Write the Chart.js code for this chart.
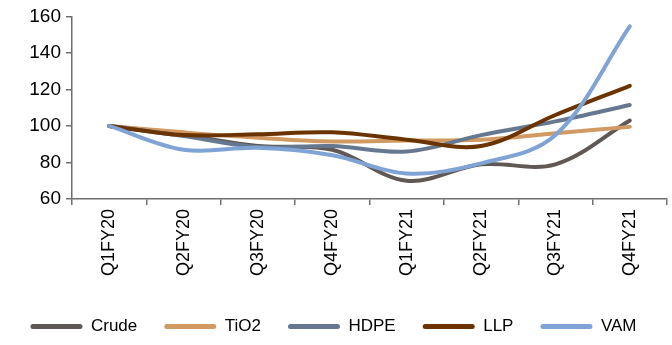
<!DOCTYPE html>
<html>
<head>
<meta charset="utf-8">
<script src="https://cdn.jsdelivr.net/npm/chart.js@4/dist/chart.umd.min.js"></script>
<style>
  html, body { margin: 0; padding: 0; background: #ffffff; }
  #wrap { width: 672px; height: 345px; position: relative; }
</style>
</head>
<body>
<div id="wrap"><canvas id="chart" width="672" height="345"></canvas></div>
<script>
// Quarterly price index (Q1FY20 = 100)
const quarters = ['Q1FY20', 'Q2FY20', 'Q3FY20', 'Q4FY20', 'Q1FY21', 'Q2FY21', 'Q3FY21', 'Q4FY21'];
const crude = [100, 95, 89, 87, 70, 79, 79, 103];
const tio2  = [100, 96.5, 93.5, 91.5, 92, 92.5, 96, 99.5];
const hdpe  = [100, 94.5, 88.5, 89, 86, 95, 102.5, 111.5];
const llp   = [100, 95, 95.5, 96.5, 92.5, 89, 106, 122];
const vam   = [100, 87, 88, 84, 74, 79.5, 95, 154.5];
const yTicks = [60, 80, 100, 120, 140, 160];

const axisColor = '#6f6f6f';

function series(label, data, color, order) {
  return {
    label, data, order,
    borderColor: color,
    backgroundColor: color,
    borderWidth: 4,
    borderCapStyle: 'round',
    borderJoinStyle: 'round',
    pointRadius: 0,
    pointHoverRadius: 0,
    tension: 0.35,
    fill: false
  };
}

new Chart(document.getElementById('chart'), {
  type: 'line',
  data: {
    labels: quarters,
    datasets: [
      series('Crude', crude, '#5f5855', 4),
      series('TiO2', tio2, '#d09a62', 3),
      series('HDPE', hdpe, '#66788f', 2),
      series('LLP', llp, '#6a3300', 1),
      series('VAM', vam, '#7ea3d4', 0)
    ]
  },
  options: {
    responsive: false,
    animation: false,
    devicePixelRatio: 1,
    layout: { padding: { top: 16, right: 5, left: 0, bottom: 0 } },
    plugins: {
      tooltip: { enabled: false },
      legend: {
        position: 'bottom',
        labels: {
          color: '#000',
          font: { family: '"Liberation Sans", Arial, sans-serif', size: 17 },
          boxWidth: 52,
          boxHeight: 5,
          padding: 27,
          useBorderRadius: true,
          borderRadius: 2.5,
          sort: (a, b) => a.datasetIndex - b.datasetIndex,
          generateLabels(chart) {
            const items = Chart.defaults.plugins.legend.labels.generateLabels(chart);
            items.forEach(it => { it.lineWidth = 0; it.strokeStyle = 'rgba(0,0,0,0)'; });
            return items;
          }
        }
      }
    },
    scales: {
      x: {
        type: 'category',
        offset: true,
        grid: {
          offset: true,
          drawOnChartArea: false,
          drawTicks: true,
          tickLength: 6,
          color: axisColor,
          lineWidth: 1.5
        },
        border: { display: true, color: axisColor, width: 1.5 },
        ticks: {
          color: '#000',
          font: { family: '"Liberation Sans", Arial, sans-serif', size: 18 },
          minRotation: 90,
          maxRotation: 90,
          padding: 4,
          autoSkip: false
        },
        afterFit(scale) { scale.height = 92; }
      },
      y: {
        min: 60,
        max: 160,
        grid: {
          drawOnChartArea: false,
          drawTicks: true,
          tickLength: 6,
          color: axisColor,
          lineWidth: 1.5
        },
        border: { display: true, color: axisColor, width: 1.5 },
        afterBuildTicks(scale) { scale.ticks = yTicks.map(v => ({ value: v })); },
        ticks: {
          color: '#000',
          font: { family: '"Liberation Sans", Arial, sans-serif', size: 19 },
          padding: 5,
          autoSkip: false
        },
        afterFit(scale) { scale.width = 72; }
      }
    }
  }
});
</script>
</body>
</html>
